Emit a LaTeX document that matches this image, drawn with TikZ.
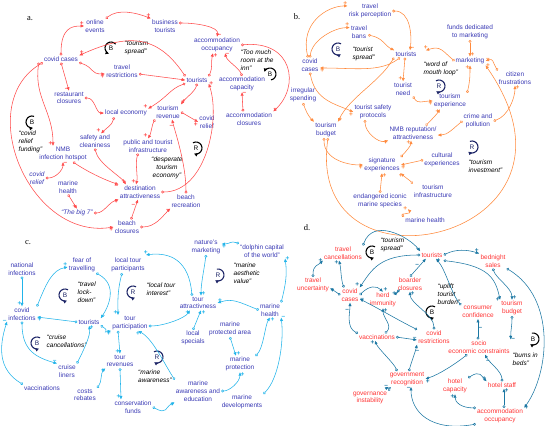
\documentclass[tikz,border=0pt]{standalone}
\usepackage{fontspec}
\setmainfont{Liberation Sans}
\newfontfamily\serf{Liberation Serif}
\usetikzlibrary{arrows.meta}
\definecolor{lA}{HTML}{FF4B4B}
\definecolor{lB}{HTML}{FF8A3D}
\definecolor{lC}{HTML}{21B4EA}
\definecolor{lD}{HTML}{1B77A3}
\definecolor{tB}{HTML}{3A3AB5}
\definecolor{tD}{HTML}{FF3535}
\definecolor{nv}{HTML}{1C2466}
\newcommand{\fs}{\fontsize{6.5}{7.7}\selectfont}
\newcommand{\lsym}[7]{%
  \node[lp,text=#7] (#1) at (#2,#3) {#4};
  \draw[lpa,draw=#7] ([shift={(#5:6pt)}]#1.center) arc[start angle=#5,end angle=#6,radius=6pt];}
\tikzset{
  tx/.style={font=\fs, align=center, inner sep=0.6pt, outer sep=0.6pt, text=tB},
  tr/.style={tx, text=tD},
  qt/.style={font=\fs\itshape, align=left, inner sep=0.5pt, anchor=west, text=black},
  lbl/.style={font=\serf\fontsize{8.5}{8.5}\selectfont, inner sep=0pt},
  lk/.style={line width=0.55pt, {Circle[open,length=2.8pt,width=2.8pt]}-{Latex[length=3.6pt,width=3.2pt]}},
  la/.style={lk,draw=lA}, lb/.style={lk,draw=lB}, lc/.style={lk,draw=lC}, ld/.style={lk,draw=lD},
  sg/.style={font=\fontsize{6.5}{6.5}\selectfont\bfseries, inner sep=0.3pt},
  sa/.style={sg,text=lA}, sb/.style={sg,text=lB}, sc/.style={sg,text=lC}, sd/.style={sg,text=lD},
  lp/.style={font=\fontsize{6.5}{6.5}\selectfont, inner sep=0pt},
  lpa/.style={line width=1.1pt, -{Latex[length=3.4pt,width=4pt]}},
}
\begin{document}
\begin{tikzpicture}[x=1pt,y=-1pt]
\useasboundingbox (0,0) rectangle (550,426);
\fill[white] (0,0) rectangle (550,426);
% ================= a =================
\node[lbl] (la) at (30,19) {a.};
\node[tx] (aOE) at (95,26) {online\\events};
\node[tx] (aBT) at (165,26) {business\\tourists};
\node[tx] (aAO) at (217,45) {accommodation\\occupancy};
\node[tx] (aCC) at (61,59) {covid cases};
\node[tx] (aTR) at (122,71) {travel\\restrictions};
\node[tx] (aTO) at (197,80) {tourists};
\node[tx] (aAC) at (242,84) {accommodation\\capacity};
\node[tx] (aRC) at (69,98) {restaurant\\closures};
\node[tx] (aLE) at (126,113) {local economy};
\node[tx] (aRV) at (168,112) {tourism\\revenue};
\node[tx] (aCR) at (207,122) {covid\\relief};
\node[tx] (aACL) at (249,119) {accommodation\\closures};
\node[tx] (aSC) at (95,141) {safety and\\cleaniness};
\node[tx] (aPI) at (148,146) {public and tourist\\infrastructure};
\node[tx] (aNMB) at (63,154) {NMB\\infection hotspot};
\node[tx,font=\fs\itshape] (aCR2) at (37,178) {covid\\relief};
\node[tx] (aMH) at (68,187) {marine\\health};
\node[tx] (aDA) at (140,192) {destination\\attractiveness};
\node[tx] (aBR) at (186,201) {beach\\recreation};
\node[tx,font=\fs\itshape] (aB7) at (77,213) {“The big 7”};
\node[tx] (aBC) at (127,227) {beach\\closures};
\node[qt] (aq1) at (124,48) {“tourism\\spread”};
\node[qt] (aq2) at (240,60) {“Too much\\room at the\\inn”};
\node[qt] (aq3) at (18,142) {“covid\\relief\\funding”};
\node[qt,anchor=center,align=center] (aq4) at (167,168) {“desperate\\tourism\\economy”};
\lsym{aL1}{111}{48}{B}{40}{250}{black}
\lsym{aL2}{270}{74}{B}{-80}{160}{black}
\lsym{aL3}{32}{122}{B}{70}{280}{black}
\lsym{aL4}{196}{148}{R}{120}{-110}{black}
\draw[la] (aCC.north) .. controls +(0,-28) and +(-12,0) .. (aOE.west) node[sa,at end,above left]{+};
\draw[la] (aOE.north east) .. controls +(12,-10) and +(-15,-6) .. (aBT.north west) node[sa,at end,above left]{+};
\draw[la] ([yshift=3pt]aBT.east) .. controls +(18,0) and +(2,-10) .. (aAO.north) node[sa,at end,above right]{–};
\draw[la] (aTO.north west) .. controls +(-30,-45) and +(45,-20) .. (aCC.north east) node[sa,at end,above right]{+};
\draw[la] (aTO.north east) .. controls +(4,-8) and +(-2,8) .. ([xshift=-4pt]aAO.south) node[sa,at end,below right]{+};
\draw[la] (aAC.north) .. controls +(-3,-8) and +(2,8) .. ([xshift=8pt]aAO.south) node[sa,at end,below right]{–};
\draw[la] (aAO.east) .. controls +(52,-5) and +(27,-25) .. (aACL.north east) node[sa,at end,above right]{–};
\draw[la] ([xshift=-6pt]aACL.north) -- (aAC.south) node[sa,at end,below right]{–};
\draw[la] (aCC.south east) .. controls +(15,5) and +(-15,0) .. ([yshift=-3pt]aTR.west) node[sa,at end,below left]{+};
\draw[la] ([yshift=-3pt]aTR.east) -- (aTO.west) node[sa,at end,below left]{–};
\draw[la] (aTO.south west) .. controls +(-15,5) and +(20,-12) .. (aLE.north east) node[sa,at end,above left]{+};
\draw[la] (aTO.south) .. controls +(-2,8) and +(4,-6) .. (aRV.north east) node[sa,at end,above right]{+};
\draw[la] (aCC.south) -- (aRC.north) node[sa,at end,above left]{–};
\draw[la] (aRC.east) .. controls +(10,0) and +(-8,0) .. (aLE.west) node[sa,at end,below left]{–};
\draw[la] ([xshift=-12pt]aLE.south) .. controls +(-2,8) and +(6,-6) .. ([xshift=6pt]aSC.north) node[sa,at end,above left]{+};
\draw[la] (aRV.east) -- (aCR.west) node[sa,at end,below left]{+};
\draw[la] (aRV.south west) .. controls +(-3,5) and +(3,-5) .. (aPI.north) node[sa,at end,above left]{+};
\draw[la] ([xshift=-4pt]aCC.south west) .. controls +(-5,35) and +(0,-35) .. ([xshift=-10pt]aNMB.north) node[sa,at end,above left]{+};
\draw[la] (aCR2.east) .. controls +(10,0) and +(0,8) .. (aNMB.south) node[sa,at end,below right]{–};
\draw[la] ([xshift=10pt]aNMB.south) .. controls +(15,10) and +(-15,-5) .. (aDA.north west) node[sa,at end,below left]{–};
\draw[la] (aSC.south) .. controls +(3,15) and +(-5,-8) .. ([xshift=-14pt]aDA.north) node[sa,at end,above left]{+};
\draw[la] ([xshift=-10pt]aPI.south) .. controls +(-3,10) and +(2,-8) .. ([xshift=-4pt]aDA.north) node[sa,at end,above left]{+};
\draw[la] (aMH.south) -- (aB7.north) node[sa,at end,above left]{+};
\draw[la] (aB7.east) .. controls +(10,0) and +(-10,3) .. (aDA.south west) node[sa,at end,below left]{+};
\draw[la] ([xshift=4pt]aBC.north) -- ([xshift=-2pt]aDA.south) node[sa,pos=0.7,left]{–};
\draw[la] (aBC.east) .. controls +(15,0) and +(-8,8) .. (aBR.south west) node[sa,at end,below left]{–};
\draw[la] (aCC.south west) .. controls +(-70,41) and +(-85,13) .. (aBC.west) node[sa,at end,below left]{+};
\draw[la] (aDA.east) .. controls +(45,0) and +(12,35) .. (aTO.south east) node[sa,at end,right]{+};
\draw[la] (aBR.north) .. controls +(0,-30) and +(3,12) .. ([xshift=4pt]aRV.south) node[sa,pos=0.85,left]{–};
% ================= b =================
\node[lbl] (lbb) at (297,17) {b.};
\node[tx] (bTRP) at (370,11) {travel\\risk perception};
\node[tx] (bTB) at (359,32) {travel\\bans};
\node[qt] (bq1) at (352,54) {“tourist\\spread”};
\lsym{bL1}{338}{49}{B}{60}{300}{nv}
\node[tx] (bFD) at (470,32) {funds dedicated\\to marketing};
\node[tx] (bTO) at (406,54) {tourists};
\node[qt] (bq2) at (423,69) {“word of\\mouth loop”};
\node[tx] (bMK) at (470,61) {marketing};
\node[tx] (bCC) at (310,65) {covid\\cases};
\node[tx] (bCF) at (515,78) {citizen\\frustrations};
\lsym{bL2}{439}{86}{R}{120}{-120}{nv}
\node[tx] (bTN) at (403,89) {tourist\\need};
\node[tx] (bIS) at (303,95) {irregular\\spending};
\node[tx] (bTE) at (450,101) {tourism\\experience};
\node[tx] (bTSP) at (373,112) {tourist safety\\protocols};
\node[tx] (bCP) at (478,121) {crime and\\pollution};
\node[tx] (bBU) at (326,130) {tourism\\budget};
\node[tx] (bNMB) at (413,133) {NMB reputation/\\attractiveness};
\lsym{bL3}{472}{147}{R}{110}{-130}{nv}
\node[qt] (bq3) at (468,166) {“tourism\\investment”};
\node[tx] (bSE) at (382,165) {signature\\experiences};
\node[tx] (bCE) at (442,160) {cultural\\experiences};
\node[tx] (bTIN) at (433,191) {tourism\\infrastructure};
\node[tx] (bEN) at (380,201) {endangered iconic\\marine species};
\node[tx] (bMH) at (425,220) {marine health};
\draw[lb] ([xshift=-2pt]bCC.north) .. controls +(-8,-35) and +(-20,0) .. ([yshift=-3pt]bTRP.north west) node[sb,at end,above left]{+};
\draw[lb] (bCC.north) .. controls +(2,-18) and +(-15,0) .. ([yshift=-3pt]bTB.north west) node[sb,at end,above left]{+};
\draw[lb] (bTRP.east) .. controls +(18,0) and +(2,-15) .. ([xshift=4pt]bTO.north) node[sb,at end,above right]{–};
\draw[lb] ([yshift=-3pt]bTB.east) .. controls +(15,3) and +(-10,-5) .. (bTO.north west) node[sb,at end,left]{–};
\draw[lb] ([xshift=-6pt]bTO.south) .. controls +(-20,15) and +(35,0) .. ([yshift=-3pt]bCC.east) node[sb,at end,below right]{+};
\draw[lb] (bMK.west) .. controls +(-12,-10) and +(15,-5) .. ([xshift=8pt]bTO.north east) node[sb,at end,above]{+};
\draw[lb] (bFD.south) -- (bMK.north) node[sb,at end,above right]{+};
\draw[lb] (bCF.north west) .. controls +(-5,-8) and +(8,-3) .. (bMK.east) node[sb,at end,above right]{–};
\draw[lb] (bTE.north east) .. controls +(3,-12) and +(0,8) .. (bMK.south) node[sb,at end,below left]{+};
\draw[lb] (bCP.east) .. controls +(15,-5) and +(0,12) .. (bCF.south) node[sb,at end,below right]{+};
\draw[lb] (bCP.west) .. controls +(-10,8) and +(10,0) .. ([yshift=-2pt]bNMB.east) node[sb,at end,below right]{–};
\draw[lb] ([xshift=-12pt]bNMB.north east) .. controls +(5,-5) and +(-3,5) .. ([xshift=-10pt]bTE.south) node[sb,at end,below left]{+};
\draw[lb] (bTN.south east) .. controls +(5,8) and +(-10,0) .. (bTE.west) node[sb,at end,below left]{+};
\draw[lb] ([xshift=-1pt]bTO.south) -- (bTN.north) node[sb,at end,above left]{+};
\draw[lb] (bCC.south) .. controls +(5,28) and +(-18,-8) .. (bTSP.west) node[sb,at end,below left]{+};
\draw[lb] ([xshift=-12pt]bTO.south) .. controls +(-15,25) and +(12,-25) .. (bBU.north east) node[sb,at end,above right]{+};
\draw[lb] (bIS.south) .. controls +(3,8) and +(-6,-6) .. (bBU.north west) node[sb,at end,above left]{–};
\draw[lb] ([xshift=-8pt]bTSP.south) .. controls +(0,12) and +(-10,3) .. (bNMB.south west) node[sb,at end,below left]{+};
\draw[lb] ([xshift=-2pt]bBU.south) .. controls +(0,22) and +(-15,0) .. (bSE.west) node[sb,at end,below left]{+};
\draw[lb] (bCE.west) -- (bSE.east) node[sb,at end,below right]{+};
\draw[lb] (bTIN.north west) .. controls +(-5,-5) and +(5,5) .. (bSE.south east) node[sb,at end,below]{+};
\draw[lb] (bEN.north) -- (bSE.south) node[sb,at end,below right]{+};
\draw[lb] (bSE.north east) .. controls +(5,-5) and +(0,5) .. ([xshift=-2pt]bNMB.south) node[sb,at end,below left]{+};
\draw[lb] (bMH.north west) .. controls +(-5,-3) and +(5,5) .. (bEN.south east) node[sb,at end,left]{+};
\draw[lb] ([xshift=2pt]bBU.south) .. controls +(-23,167) and +(122,175) .. (bMK.south east) node[sb,at end,right]{+};
% ================= c =================
\node[lbl] (lcc) at (28,243) {c.};
\node[tx] (cNM) at (206,247) {nature’s\\marketing};
\node[tx] (cDC) at (262,251) {“dolphin capital\\of the world”};
\node[tx] (cNI) at (22,269) {national\\infections};
\node[tx] (cFT) at (82,265) {fear of\\travelling};
\node[tx] (cLTP) at (128,265) {local tour\\participants};
\node[qt] (cq1) at (233,273) {“marine\\aesthetic\\value”};
\lsym{cL1}{218}{275}{R}{100}{-120}{nv}
\node[qt] (cq2) at (77,292) {“travel\\lock-\\down”};
\lsym{cL2}{65}{295}{B}{60}{290}{nv}
\lsym{cL3}{133}{292}{R}{60}{290}{nv}
\node[qt] (cq3) at (146,289) {“local tour\\interest”};
\node[tx] (cTA) at (198,303) {tour\\attractivness};
\node[tx] (cCI) at (22,314) {covid\\infections};
\node[tx] (cTO) at (89,322) {tourists};
\node[tx] (cMHe) at (270,310) {marine\\health};
\node[tx] (cTP) at (130,323) {tour\\participation};
\node[tx] (cLS) at (193,338) {local\\specials};
\node[tx] (cMPA) at (230,329) {marine\\protected area};
\lsym{cL4}{37}{343}{B}{60}{290}{nv}
\node[qt] (cq4) at (46,341) {“cruise\\cancellations”};
\node[tx] (cTR) at (120,361) {tour\\revenues};
\lsym{cL5}{157}{357}{R}{120}{-120}{nv}
\node[qt,anchor=center] (cq5) at (155,376) {“marine\\awareness”};
\node[tx] (cCL) at (67,371) {cruise\\liners};
\node[tx] (cMP) at (240,364) {marine\\protection};
\node[tx] (cVA) at (42,388) {vaccinations};
\node[tx] (cCR) at (85,395) {costs\\rebates};
\node[tx] (cMAE) at (198,391) {marine\\awareness and\\education};
\node[tx] (cMD) at (242,402) {marine\\developments};
\node[tx] (cCF) at (133,407) {conservation\\funds};
\draw[lc] (cNI.south) -- (cCI.north) node[sc,at end,above left]{+};
\draw[lc] (cCI.north east) .. controls +(10,-25) and +(-15,3) .. ([yshift=-2pt]cFT.west) node[sc,at end,above left]{+};
\draw[lc] (cFT.south east) .. controls +(22,12) and +(8,-12) .. (cTO.north east) node[sc,at end,above right]{–};
\draw[lc] ([xshift=-6pt]cLTP.south) .. controls +(-5,20) and +(0,-12) .. ([xshift=-12pt]cTP.north) node[sc,at end,above left]{+};
\draw[lc] ([xshift=-6pt]cTA.north) .. controls +(-3,-35) and +(25,-3) .. ([yshift=2pt]cLTP.north east) node[sc,at end,above]{+};
\draw[lc] (cNM.south) .. controls +(-2,15) and +(0,-12) .. ([xshift=3pt]cTA.north) node[sc,at end,above right]{+};
\draw[lc] (cDC.north west) .. controls +(-8,-3) and +(8,0) .. ([yshift=3pt]cNM.east) node[sc,at end,below right]{+};
\draw[lc] (cMHe.west) .. controls +(-20,-8) and +(15,-5) .. (cTA.east) node[sc,at end,above right]{+};
\draw[lc] (cMHe.north east) .. controls +(5,-20) and +(2,15) .. (cDC.south east) node[sc,at end,right]{+};
\draw[lc] (cTO.west) -- ([yshift=-3pt]cCI.east) node[sc,at end,below right]{+};
\draw[lc] (cTO.south east) .. controls +(10,6) and +(-10,2) .. (cTP.south west) node[sc,at end,below left]{+};
\draw[lc] ([yshift=-3pt]cTP.east) .. controls +(15,0) and +(-5,8) .. ([xshift=-8pt]cTA.south) node[sc,at end,below left]{+};
\draw[lc] (cLS.north) -- ([xshift=3pt]cTA.south) node[sc,at end,below right]{+};
\draw[lc] (cMPA.south) -- ([xshift=-4pt]cMP.north) node[sc,at end,above right]{+};
\draw[lc] (cMP.north east) .. controls +(8,-8) and +(-5,8) .. (cMHe.south) node[sc,at end,below right]{+};
\draw[lc] (cMD.north east) .. controls +(15,-15) and +(3,25) .. (cMHe.south east) node[sc,at end,right]{–};
\draw[lc] (cMAE.east) .. controls +(8,0) and +(0,10) .. (cMP.south) node[sc,at end,below right]{+};
\draw[lc] (cCF.east) .. controls +(15,8) and +(-10,5) .. (cMAE.south west) node[sc,at end,below left]{+};
\draw[lc] (cTR.south) -- ([xshift=-12pt]cCF.north) node[sc,at end,above left]{+};
\draw[lc] ([xshift=-12pt]cTP.south) -- (cTR.north) node[sc,at end,above left]{+};
\draw[lc] (cCR.north east) .. controls +(5,-6) and +(-5,5) .. (cTR.south west) node[sc,at end,below left]{+};
\draw[lc] (cCI.south) .. controls +(0,30) and +(-20,-6) .. (cCL.north west) node[sc,at end,above left]{–};
\draw[lc] (cVA.north west) .. controls +(-25,-15) and +(-8,25) .. (cCI.south west) node[sc,at end,left]{–};
\draw[lc] (cCL.north east) .. controls +(5,-10) and +(2,10) .. (cTO.south) node[sc,at end,below right]{+};
\draw[lc] (cMAE.north west) .. controls +(-10,-15) and +(15,8) .. ([xshift=8pt]cTP.south) node[sc,at end,below]{+};
% ================= d =================
\node[lbl] (ldd) at (307,228) {d.};
\node[qt] (dq1) at (380,245) {“tourism\\spread”};
\lsym{dL1}{372}{252}{B}{60}{290}{black}
\node[tr] (dTC) at (343,253) {travel\\cancellations};
\node[tr] (dTO) at (432,255) {tourists};
\node[tr] (dBS) at (493,261) {bednight\\sales};
\node[tr] (dTU) at (313,285) {travel\\uncertainty};
\node[tr] (dCC) at (350,295) {covid\\cases};
\node[tr] (dBC) at (410,284) {boarder\\closures};
\node[tr] (dHI) at (383,300) {herd\\immunity};
\node[qt] (dq2) at (437,294) {“uplift\\tourist\\burden”};
\lsym{dL2}{432}{312}{B}{60}{290}{black}
\node[tr] (dCO) at (478,312) {consumer\\confidence};
\node[tr] (dTB) at (512,308) {tourism\\budget};
\lsym{dL3}{533}{339}{B}{100}{-120}{black}
\node[tr] (dVA) at (377,337) {vaccinations};
\node[tr] (dCR) at (434,337) {covid\\restrictions};
\node[tr] (dSE) at (479,347) {socio\\economic constraints};
\node[qt] (dq3) at (512,359) {“bums in\\beds”};
\node[tr] (dGR) at (407,379) {government\\recognition};
\node[tr] (dHC) at (455,386) {hotel\\capacity};
\node[tr] (dHS) at (502,385) {hotel staff};
\node[tr] (dGI) at (370,398) {governance\\instability};
\node[tr] (dAO) at (500,416) {accommodation\\occupancy};
\draw[ld] (dTU.north) .. controls +(0,-12) and +(-5,5) .. (dTC.south west) node[sd,at end,left]{+};
\draw[ld] ([xshift=-6pt]dCC.north) .. controls +(-3,-8) and +(2,8) .. ([xshift=-4pt]dTC.south) node[sd,at end,below left]{+};
\draw[ld] (dTO.west) .. controls +(-40,0) and +(12,-18) .. (dCC.north east) node[sd,at end,above left]{+};
\draw[ld] (dCC.west) -- ([yshift=-3pt]dTU.east) node[sd,at end,below right]{+};
\draw[ld] (dCC.east) .. controls +(10,-10) and +(-6,-6) .. (dHI.north) node[sd,at end,above right]{+};
\draw[ld] (dHI.north east) .. controls +(5,-5) and +(-3,6) .. (dBC.south west) node[sd,at end,below left]{+};
\draw[ld] (dBC.north) -- ([xshift=-6pt]dTO.south) node[sd,pos=0.6,left]{–};
\draw[ld] (dTO.east) .. controls +(12,-6) and +(-12,-4) .. (dBS.north west) node[sd,at end,above left]{+};
\draw[ld] (dTC.north east) .. controls +(10,-28) and +(-12,-15) .. (dTO.north west) node[sd,at end,above left]{–};
\draw[ld] ([yshift=-2pt]dTO.south east) .. controls +(45,5) and +(-5,-22) .. (dTB.north west) node[sd,at end,left]{+};
\draw[ld] (dBS.south) .. controls +(3,10) and +(0,-12) .. (dTB.north) node[sd,at end,above right]{+};
\draw[ld] (dCO.north west) .. controls +(-10,-12) and +(10,12) .. ([xshift=4pt]dTO.south) node[sd,at end,below right]{+};
\draw[ld] (dTB.south) .. controls +(0,10) and +(0,-10) .. (dSE.north east) node[sd,at end,right]{–};
\draw[ld] ([xshift=-1pt]dSE.north) -- (dCO.south) node[sd,pos=0.55,right]{–};
\draw[ld] ([xshift=20pt]dSE.south west) .. controls +(-10,8) and +(15,-5) .. (dGR.east) node[sd,at end,below right]{+};
\draw[ld] (dCR.north west) .. controls +(-20,-10) and +(20,10) .. ([yshift=-4pt]dCC.east) node[sd,at end,right]{–};
\draw[ld] (dVA.north west) .. controls +(-12,-6) and +(0,10) .. (dCC.south) node[sd,pos=0.75,left]{–};
\draw[ld] ([xshift=8pt]dVA.north) .. controls +(8,-8) and +(0,10) .. (dHI.south) node[sd,at end,below right]{+};
\draw[ld] (dVA.east) -- ([yshift=-3pt]dCR.west) node[sd,at end,above left]{–};
\draw[ld] (dCR.north) .. controls +(0,-15) and +(0,12) .. (dBC.south) node[sd,at end,below right]{+};
\draw[ld] ([xshift=-10pt]dGR.north) .. controls +(-3,-8) and +(3,8) .. ([xshift=-2pt]dVA.south) node[sd,at end,below left]{+};
\draw[ld] ([xshift=2pt]dGR.north) .. controls +(2,-8) and +(-2,8) .. (dCR.south west) node[sd,pos=0.72,right]{–};
\draw[ld] (dGI.north east) .. controls +(5,-5) and +(-5,3) .. (dGR.south west) node[sd,at end,left]{–};
\draw[ld] (dAO.south west) .. controls +(-45,8) and +(0,25) .. ([xshift=4pt]dGR.south) node[sd,at end,below left]{–};
\draw[ld] (dAO.north west) .. controls +(-15,0) and +(0,8) .. (dHC.south) node[sd,at end,below left]{+};
\draw[ld] (dHC.north east) .. controls +(12,-8) and +(-5,-5) .. (dHS.north west) node[sd,at end,above left]{+};
\draw[ld] ([xshift=4pt]dAO.north) -- ([xshift=2pt]dHS.south) node[sd,at end,below right]{+};
\draw[ld] (dHS.north) .. controls +(0,-10) and +(4,8) .. ([xshift=6pt]dSE.south) node[sd,pos=0.7,left]{–};
\draw[ld] (dBS.south east) .. controls +(50,30) and +(25,-35) .. (dAO.north east) node[sd,at end,right]{+};
\end{tikzpicture}
\end{document}
